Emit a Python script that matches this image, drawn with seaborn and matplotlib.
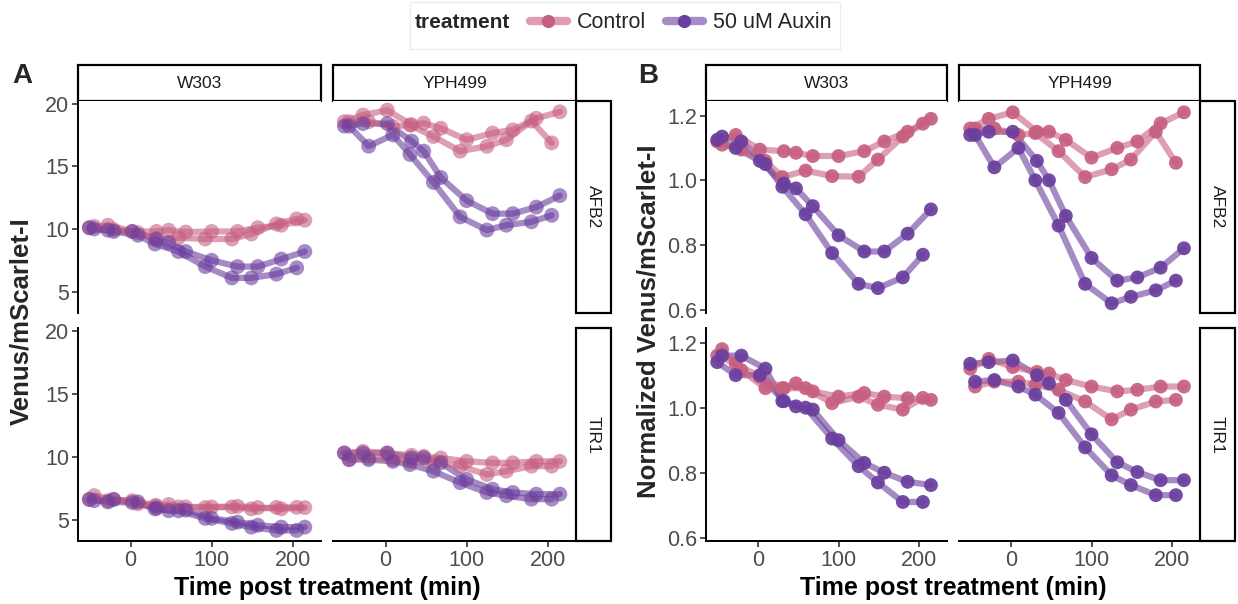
import numpy as np
import pandas as pd
import matplotlib
matplotlib.use("Agg")
import matplotlib.pyplot as plt
import seaborn as sns
from matplotlib.patches import Rectangle
from matplotlib.lines import Line2D

sns.set_theme(style="white")
plt.rcParams["font.family"] = ["Liberation Sans", "DejaVu Sans"]

# ---------------- data ----------------
strains = ["W303", "YPH499"]
reporters = ["AFB2", "TIR1"]
treatments = ["Control", "50 uM Auxin"]
time_rep1 = [-51, -28, 2, 32, 47, 68, 100, 132, 157, 186, 215]
time_rep2 = [-45, -21, 9, 30, 59, 92, 125, 149, 180, 205]
x_ticks = [0, 100, 200]
y_ticks_A = [5, 10, 15, 20]
y_ticks_B = [0.6, 0.8, 1.0, 1.2]

# Panel A: Venus/mScarlet-I
A_W303_AFB2_aux_r1 = [10.1, 9.9, 9.8, 9.2, 8.9, 8.2, 7.5, 7.0, 7.0, 7.6, 8.2]
A_W303_AFB2_aux_r2 = [10.0, 9.8, 9.5, 8.8, 8.2, 7.0, 6.1, 6.1, 6.4, 6.9]
A_W303_AFB2_ctl_r1 = [10.1, 10.3, 9.8, 9.8, 9.9, 9.75, 9.8, 9.8, 10.1, 10.3, 10.7]
A_W303_AFB2_ctl_r2 = [10.2, 9.95, 9.7, 9.2, 9.3, 9.2, 9.2, 9.6, 10.4, 10.8]

A_YPH499_AFB2_aux_r1 = [18.2, 18.4, 18.4, 17.0, 16.2, 14.1, 12.26, 11.22, 11.22, 11.74, 12.66]
A_YPH499_AFB2_aux_r2 = [18.2, 16.6, 17.5, 15.94, 13.71, 10.96, 9.91, 10.3, 10.57, 11.09]
A_YPH499_AFB2_ctl_r1 = [18.55, 19.08, 19.47, 18.3, 18.43, 18.03, 17.11, 17.64, 17.9, 18.82, 19.34]
A_YPH499_AFB2_ctl_r2 = [18.55, 18.55, 18.16, 18.29, 17.37, 16.2, 16.59, 17.11, 18.6, 16.86]

A_W303_TIR1_aux_r1 = [6.6, 6.4, 6.35, 5.9, 5.7, 5.75, 5.1, 4.8, 4.55, 4.4, 4.4]
A_W303_TIR1_aux_r2 = [6.5, 6.6, 6.4, 5.85, 5.7, 5.1, 4.7, 4.4, 4.14, 4.14]
A_W303_TIR1_ctl_r1 = [6.6, 6.5, 6.5, 6.1, 6.2, 6.0, 6.0, 6.05, 5.95, 5.85, 5.95]
A_W303_TIR1_ctl_r2 = [6.9, 6.6, 6.25, 6.1, 6.0, 5.95, 6.0, 5.85, 5.97, 5.97]

A_YPH499_TIR1_aux_r1 = [10.28, 10.28, 10.28, 9.9, 9.9, 9.5, 8.19, 7.41, 7.15, 7.02, 7.02]
A_YPH499_TIR1_aux_r2 = [9.76, 9.76, 9.62, 9.37, 8.84, 7.93, 7.15, 6.89, 6.62, 6.62]
A_YPH499_TIR1_ctl_r1 = [10.28, 10.41, 10.28, 10.1, 10.02, 9.89, 9.62, 9.5, 9.5, 9.62, 9.62]
A_YPH499_TIR1_ctl_r2 = [9.76, 9.89, 9.76, 9.62, 9.5, 9.24, 8.58, 8.84, 9.24, 9.24]

# Panel B: normalized Venus/mScarlet-I
B_W303_AFB2_aux_r1 = [1.125, 1.10, 1.06, 0.99, 0.975, 0.92, 0.83, 0.78, 0.78, 0.835, 0.91]
B_W303_AFB2_aux_r2 = [1.135, 1.12, 1.05, 0.98, 0.895, 0.775, 0.68, 0.667, 0.70, 0.77]
B_W303_AFB2_ctl_r1 = [1.12, 1.14, 1.095, 1.09, 1.085, 1.075, 1.075, 1.09, 1.12, 1.15, 1.19]
B_W303_AFB2_ctl_r2 = [1.11, 1.095, 1.06, 1.01, 1.03, 1.013, 1.011, 1.064, 1.135, 1.175]

B_YPH499_AFB2_aux_r1 = [1.14, 1.15, 1.15, 1.06, 1.0, 0.89, 0.76, 0.69, 0.70, 0.73, 0.79]
B_YPH499_AFB2_aux_r2 = [1.14, 1.04, 1.10, 1.0, 0.86, 0.68, 0.62, 0.64, 0.66, 0.69]
B_YPH499_AFB2_ctl_r1 = [1.16, 1.19, 1.21, 1.15, 1.15, 1.125, 1.07, 1.10, 1.12, 1.176, 1.21]
B_YPH499_AFB2_ctl_r2 = [1.16, 1.16, 1.14, 1.146, 1.09, 1.01, 1.034, 1.064, 1.15, 1.054]

B_W303_TIR1_aux_r1 = [1.14, 1.10, 1.10, 1.02, 1.004, 0.994, 0.90, 0.83, 0.80, 0.772, 0.762]
B_W303_TIR1_aux_r2 = [1.16, 1.16, 1.12, 1.02, 1.0, 0.905, 0.82, 0.77, 0.71, 0.71]
B_W303_TIR1_ctl_r1 = [1.16, 1.135, 1.095, 1.06, 1.075, 1.05, 1.034, 1.045, 1.034, 1.029, 1.024]
B_W303_TIR1_ctl_r2 = [1.18, 1.115, 1.06, 1.06, 1.06, 1.014, 1.034, 1.009, 0.994, 1.03]

B_YPH499_TIR1_aux_r1 = [1.135, 1.14, 1.145, 1.10, 1.075, 1.024, 0.918, 0.832, 0.802, 0.777, 0.777]
B_YPH499_TIR1_aux_r2 = [1.08, 1.085, 1.065, 1.04, 0.984, 0.878, 0.792, 0.762, 0.731, 0.731]
B_YPH499_TIR1_ctl_r1 = [1.12, 1.15, 1.125, 1.11, 1.105, 1.085, 1.065, 1.05, 1.055, 1.065, 1.065]
B_YPH499_TIR1_ctl_r2 = [1.065, 1.08, 1.08, 1.07, 1.055, 1.019, 0.964, 0.994, 1.019, 1.024]

# ---------------- build table ----------------
g = globals()
rows_ = []
for panel in ["A", "B"]:
    for s in strains:
        for r in reporters:
            for code, trt in [("ctl", "Control"), ("aux", "50 uM Auxin")]:
                for rep, times in [(1, time_rep1), (2, time_rep2)]:
                    vals = g[f"{panel}_{s}_{r}_{code}_r{rep}"]
                    for t, v in zip(times, vals):
                        rows_.append(dict(panel=panel, strain=s, reporter=r,
                                          treatment=trt, rep=rep, time=t, value=v))
df = pd.DataFrame(rows_)

# ---------------- styling ----------------
pink = "#C75F7F"
purple = "#6A3E9E"
palette = {"Control": pink, "50 uM Auxin": purple}
hue_order = ["50 uM Auxin", "Control"]

W, H = 1238, 604
fig = plt.figure(figsize=(W / 100, H / 100), dpi=100)


def ax_px(l, t, r, b):
    return fig.add_axes([l / W, 1 - b / H, (r - l) / W, (b - t) / H])


layout = {
    "A": dict(cols=[(78, 321), (333, 576)], rstrip=(576, 611), ylim=(3.3, 20.2),
              yticks=y_ticks_A, ylab="Venus/mScarlet-I", fmt=lambda v: f"{v:g}",
              pt_alpha=0.6, s=115),
    "B": dict(cols=[(706, 947), (959, 1200)], rstrip=(1200, 1235), ylim=(0.59, 1.245),
              yticks=y_ticks_B, ylab="Normalized Venus/mScarlet-I", fmt=lambda v: f"{v:.1f}",
              pt_alpha=0.92, s=100),
}
row_px = [(101, 313), (328, 541)]
top_strip = (65, 101)
strip_lw = 1.6
tick_col = "#333333"
lab_col = "#4D4D4D"


def strip(l, t, r, b, text, rot):
    a = ax_px(l, t, r, b)
    a.set_axis_off()
    a.add_patch(Rectangle((0, 0), 1, 1, transform=a.transAxes, fill=True, fc="white",
                          ec="black", lw=strip_lw, clip_on=False))
    a.text(0.5, 0.5, text, transform=a.transAxes, ha="center", va="center",
           rotation=rot, fontsize=12.5, color="#1A1A1A")


for panel, L in layout.items():
    for ci, (cl, cr) in enumerate(L["cols"]):
        strip(cl, top_strip[0], cr, top_strip[1], strains[ci], 0)
        for ri, (rt, rb) in enumerate(row_px):
            ax = ax_px(cl, rt, cr, rb)
            sub = df[(df.panel == panel) & (df.strain == strains[ci]) & (df.reporter == reporters[ri])]
            sns.lineplot(data=sub, x="time", y="value", hue="treatment", units="rep",
                         estimator=None, sort=False, hue_order=hue_order, palette=palette,
                         lw=4.5, alpha=0.6, legend=False, ax=ax)
            sns.scatterplot(data=sub, x="time", y="value", hue="treatment",
                            hue_order=hue_order, palette=palette, s=L["s"], linewidth=0,
                            alpha=L["pt_alpha"], legend=False, ax=ax, zorder=3)
            ax.set_xlim(-65, 235)
            ax.set_ylim(*L["ylim"])
            ax.set_xlabel("")
            ax.set_ylabel("")
            ax.set_facecolor("white")
            for sp in ["top", "right"]:
                ax.spines[sp].set_visible(False)
            for sp in ["left", "bottom"]:
                ax.spines[sp].set_linewidth(1.4)
                ax.spines[sp].set_color("black")
            ax.set_xticks(x_ticks)
            ax.set_yticks(L["yticks"])
            ax.set_yticklabels([L["fmt"](v) for v in L["yticks"]])
            ax.tick_params(direction="out", length=4.5, width=1.2, color=tick_col,
                           labelcolor=lab_col, labelsize=15.5, pad=2,
                           bottom=(ri == 1), labelbottom=(ri == 1),
                           left=(ci == 0), labelleft=(ci == 0))
            if ci > 0:
                ax.spines["left"].set_visible(False)
            if ri == 0:
                ax.spines["bottom"].set_visible(False)
    for ri, (rt, rb) in enumerate(row_px):
        strip(L["rstrip"][0], rt, L["rstrip"][1], rb, reporters[ri], -90)

    cx = (L["cols"][0][0] + L["rstrip"][0]) / 2
    fig.text(cx / W, 1 - 588 / H, "Time post treatment (min)", ha="center", va="center",
             fontsize=18, fontweight="bold", color="black")

fig.text(21 / W, 1 - 321 / H, layout["A"]["ylab"], rotation=90, ha="center", va="center",
         fontsize=18.5, fontweight="bold")
fig.text(648 / W, 1 - 321 / H, layout["B"]["ylab"], rotation=90, ha="center", va="center",
         fontsize=18.5, fontweight="bold")
fig.text(22 / W, 1 - 76 / H, "A", ha="center", va="center", fontsize=20, fontweight="bold")
fig.text(648 / W, 1 - 76 / H, "B", ha="center", va="center", fontsize=20, fontweight="bold")

# legend
fig.add_artist(Rectangle((410 / W, 1 - 49 / H), 430 / W, 47 / H, transform=fig.transFigure,
                         fill=False, ec="#EDEDED", lw=1))
fig.text(415 / W, 1 - 23 / H, "treatment", ha="left", va="center", fontsize=15,
         fontweight="bold")
light = {"Control": "#DE9DB0", "50 uM Auxin": "#A68BC6"}
handles = [Line2D([0], [0], color=light[t], lw=6, marker="o", markersize=9.5,
                  markerfacecolor=palette[t], markeredgewidth=0) for t in treatments]
fig.legend(handles, treatments, loc="center left", bbox_to_anchor=(530 / W, 1 - 23 / H),
           ncol=2, frameon=False, fontsize=15.5, handlelength=1.7, handletextpad=0.5,
           columnspacing=0.9, borderpad=0, borderaxespad=0)

fig.savefig("out.png", dpi=100)
